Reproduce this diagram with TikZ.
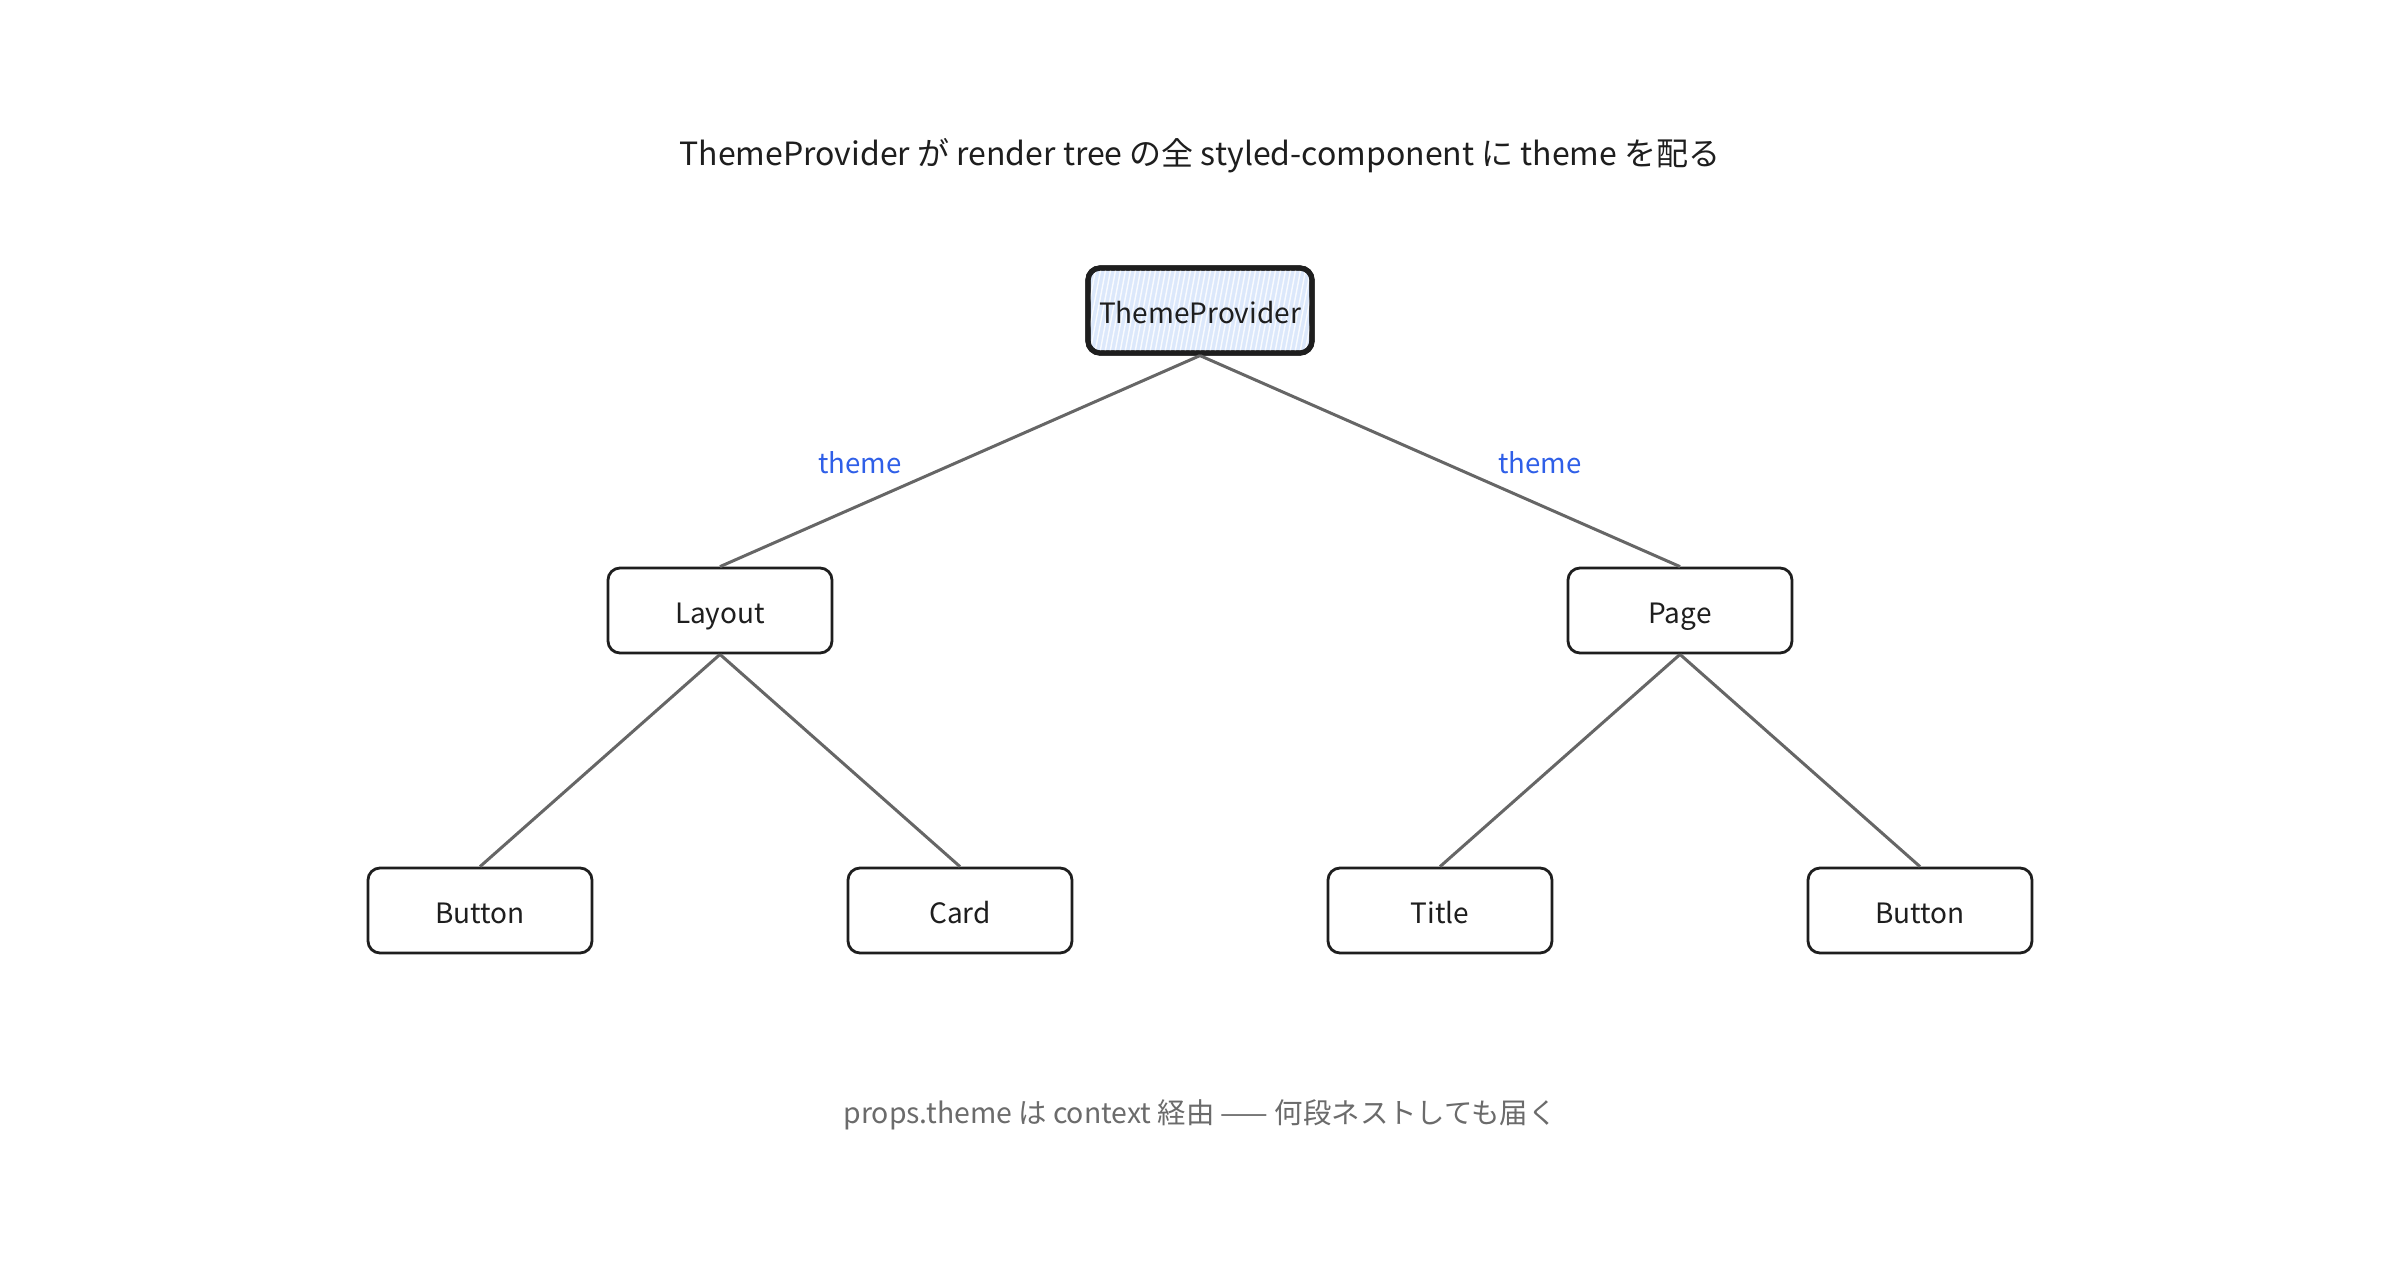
\documentclass[tikz,border=0pt]{standalone}
\usepackage{fontspec}
\setmainfont{Noto Sans CJK JP}
\definecolor{ink}{HTML}{1E1E1E}
\definecolor{edgegray}{HTML}{666666}
\definecolor{subgray}{HTML}{6B6B6B}
\definecolor{themeblue}{HTML}{2F5FE8}
\definecolor{rootfill}{HTML}{DCE8FB}
\begin{document}
\begin{tikzpicture}[x=0.5pt,y=-0.5pt,
  box/.style={draw=ink, line width=1.4pt, rounded corners=6pt, fill=white,
    minimum width=112pt, minimum height=42.5pt, inner sep=0pt, text=ink,
    text height=12.8pt, text depth=0pt,
    font=\fontsize{14}{17}\selectfont},
  rootbox/.style={box, line width=2.6pt, fill=rootfill},
  edge/.style={draw=edgegray, line width=1.5pt},
  lbl/.style={text=themeblue, font=\fontsize{13.8}{17}\selectfont}]
\useasboundingbox (0,0) rectangle (2400,1260);
\fill[white] (0,0) rectangle (2400,1260);
\node[text=ink, font=\fontsize{16}{19}\selectfont] (title) at (1200,156) {ThemeProvider が render tree の全 styled-component に theme を配る};
\node[rootbox] (root) at (1200,310.5) {};
\begin{scope}
\clip[rounded corners=6pt] (1090,270) rectangle (1310,351);
\foreach \i in {0,...,46} {
  \draw[white, line width=0.7pt, opacity=0.85] (1080+\i*5,352) -- (1096+\i*5,268);
}
\end{scope}
\node[rootbox, fill=none] (rootb) at (1200,310.5) {ThemeProvider};
\node[box] (layout) at (720,610.5) {Layout};
\node[box] (page) at (1680,610.5) {Page};
\node[box] (b1) at (480,910.5) {Button};
\node[box] (card) at (960,910.5) {Card};
\node[box] (titlen) at (1440,910.5) {Title};
\node[box] (b2) at (1920,910.5) {Button};
\draw[edge] (rootb.south) -- (layout.north);
\draw[edge] (rootb.south) -- (page.north);
\draw[edge] (layout.south) -- (b1.north);
\draw[edge] (layout.south) -- (card.north);
\draw[edge] (page.south) -- (titlen.north);
\draw[edge] (page.south) -- (b2.north);
\node[lbl] (l1) at (860,463) {theme};
\node[lbl] (l2) at (1540,463) {theme};
\node[text=subgray, font=\fontsize{14.2}{17}\selectfont] (foot) at (1200,1115) {props.theme は context 経由 —— 何段ネストしても届く};
\end{tikzpicture}
\end{document}
